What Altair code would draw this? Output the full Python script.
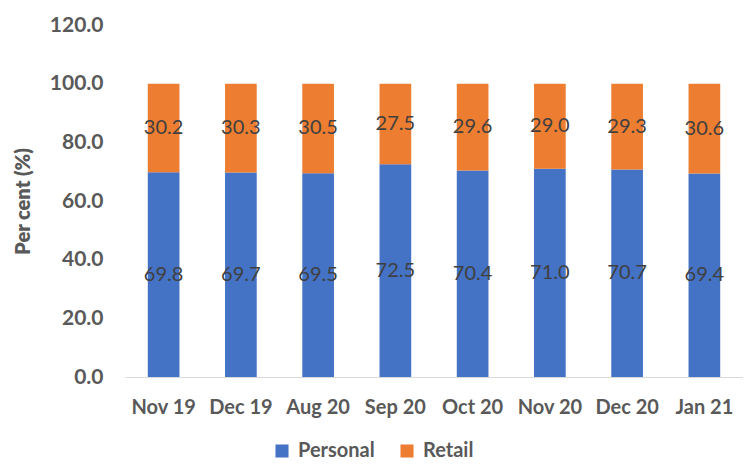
import altair as alt
import pandas as pd

months = ["Nov 19", "Dec 19", "Aug 20", "Sep 20", "Oct 20", "Nov 20", "Dec 20", "Jan 21"]
personal = [69.8, 69.7, 69.5, 72.5, 70.4, 71.0, 70.7, 69.4]
retail = [30.2, 30.3, 30.5, 27.5, 29.6, 29.0, 29.3, 30.6]
series = ["Personal", "Retail"]
colors = ["#4472C4", "#ED7D31"]

rows = []
for m, p, r in zip(months, personal, retail):
    rows.append({"month": m, "series": series[0], "value": p})
    rows.append({"month": m, "series": series[1], "value": r})
df = pd.DataFrame(rows)

FONT = "Lato"
GRAY = "#595959"

x = alt.X("month:N", sort=months, title=None,
          scale=alt.Scale(paddingInner=0.59, paddingOuter=0.295),
          axis=alt.Axis(labelAngle=0, labelFontSize=20, labelFontWeight="bold",
                        labelColor=GRAY, labelFont=FONT, labelPadding=20,
                        ticks=False, domainColor="#D9D9D9", domainWidth=1))

base = alt.Chart(df).transform_stack(
    stack="value", groupby=["month"], as_=["y0", "y1"],
    sort=[alt.SortField("series", order="ascending")]
).transform_calculate(mid="(datum.y0 + datum.y1) / 2")

bars = base.mark_bar().encode(
    x=x,
    y=alt.Y("y0:Q", title="Per cent (%)",
            scale=alt.Scale(domain=[0, 120]),
            axis=alt.Axis(values=[0, 20, 40, 60, 80, 100, 120], format=".1f",
                          labelFontSize=21, labelFontWeight="bold", labelColor=GRAY,
                          labelFont=FONT, labelPadding=22, ticks=False, domain=False,
                          grid=False, titleFontSize=20, titleFontWeight=800,
                          titleColor=GRAY, titleFont=FONT, titlePadding=16)),
    y2="y1:Q",
    color=alt.Color("series:N", scale=alt.Scale(domain=series, range=colors),
                    legend=alt.Legend(title=None, orient="none", direction="horizontal",
                                      legendX=147, legendY=416,
                                      symbolType="square", symbolSize=170,
                                      symbolStrokeWidth=0,
                                      labelFontSize=20, labelFontWeight="bold",
                                      labelColor=GRAY, labelFont=FONT,
                                      columnPadding=22, labelOffset=6)),
)

labels = base.mark_text(fontSize=20, color="#404040", font=FONT).encode(
    x=x,
    y=alt.Y("mid:Q"),
    text=alt.Text("value:Q", format=".1f"),
)

chart = alt.layer(bars, labels).properties(
    width=618, height=352,
    padding={"left": 117, "top": 17, "right": 0, "bottom": 87},
    autosize=alt.AutoSizeParams(type="none"),
).configure_view(stroke=None)

chart.save("out.html", embed_options={"renderer": "svg", "actions": False})
